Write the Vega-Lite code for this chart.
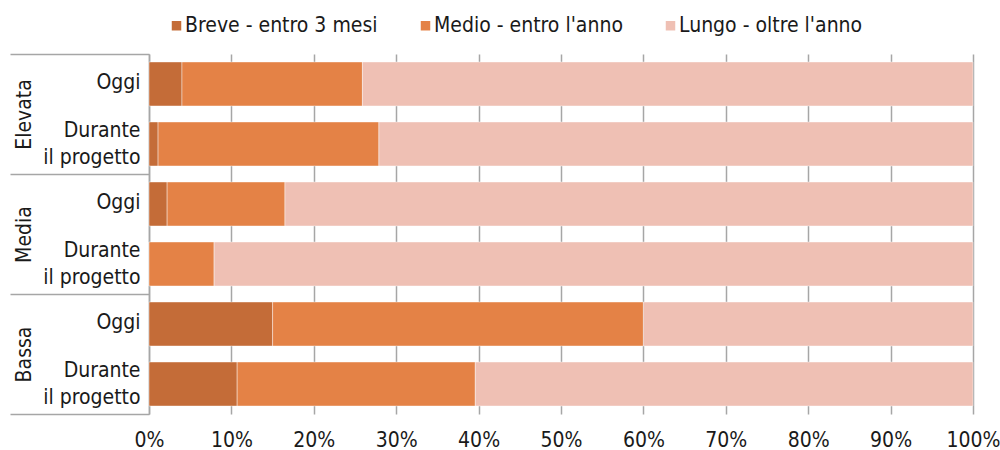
{
  "$schema": "https://vega.github.io/schema/vega-lite/v6.json",
  "width": 824,
  "height": 360,
  "autosize": {"type": "none"},
  "padding": {"left": 149, "top": 54, "right": 27, "bottom": 36},
  "background": "white",
  "config": {
    "font": "DejaVu Sans Condensed, Liberation Sans Narrow, sans-serif",
    "view": {"stroke": null},
    "axis": {"labelFont": "DejaVu Sans Condensed, Liberation Sans Narrow, sans-serif", "labelColor": "#1a1a1a", "labelFontSize": 21, "titleFontSize": 21},
    "legend": {"labelFont": "DejaVu Sans Condensed, Liberation Sans Narrow, sans-serif"}
  },
  "data": {
    "values": [
      {"gruppo": "Elevata", "periodo": "Oggi", "chiave": "Elevata|Oggi", "categoria": "Breve - entro 3 mesi", "ordine": 1, "valore": 4.0},
      {"gruppo": "Elevata", "periodo": "Oggi", "chiave": "Elevata|Oggi", "categoria": "Medio - entro l'anno", "ordine": 2, "valore": 21.9},
      {"gruppo": "Elevata", "periodo": "Oggi", "chiave": "Elevata|Oggi", "categoria": "Lungo - oltre l'anno", "ordine": 3, "valore": 74.1},
      {"gruppo": "Elevata", "periodo": "Durante il progetto", "chiave": "Elevata|Durante", "categoria": "Breve - entro 3 mesi", "ordine": 1, "valore": 1.1},
      {"gruppo": "Elevata", "periodo": "Durante il progetto", "chiave": "Elevata|Durante", "categoria": "Medio - entro l'anno", "ordine": 2, "valore": 26.8},
      {"gruppo": "Elevata", "periodo": "Durante il progetto", "chiave": "Elevata|Durante", "categoria": "Lungo - oltre l'anno", "ordine": 3, "valore": 72.1},
      {"gruppo": "Media", "periodo": "Oggi", "chiave": "Media|Oggi", "categoria": "Breve - entro 3 mesi", "ordine": 1, "valore": 2.2},
      {"gruppo": "Media", "periodo": "Oggi", "chiave": "Media|Oggi", "categoria": "Medio - entro l'anno", "ordine": 2, "valore": 14.3},
      {"gruppo": "Media", "periodo": "Oggi", "chiave": "Media|Oggi", "categoria": "Lungo - oltre l'anno", "ordine": 3, "valore": 83.5},
      {"gruppo": "Media", "periodo": "Durante il progetto", "chiave": "Media|Durante", "categoria": "Breve - entro 3 mesi", "ordine": 1, "valore": 0},
      {"gruppo": "Media", "periodo": "Durante il progetto", "chiave": "Media|Durante", "categoria": "Medio - entro l'anno", "ordine": 2, "valore": 7.9},
      {"gruppo": "Media", "periodo": "Durante il progetto", "chiave": "Media|Durante", "categoria": "Lungo - oltre l'anno", "ordine": 3, "valore": 92.1},
      {"gruppo": "Bassa", "periodo": "Oggi", "chiave": "Bassa|Oggi", "categoria": "Breve - entro 3 mesi", "ordine": 1, "valore": 15.0},
      {"gruppo": "Bassa", "periodo": "Oggi", "chiave": "Bassa|Oggi", "categoria": "Medio - entro l'anno", "ordine": 2, "valore": 45.0},
      {"gruppo": "Bassa", "periodo": "Oggi", "chiave": "Bassa|Oggi", "categoria": "Lungo - oltre l'anno", "ordine": 3, "valore": 40.0},
      {"gruppo": "Bassa", "periodo": "Durante il progetto", "chiave": "Bassa|Durante", "categoria": "Breve - entro 3 mesi", "ordine": 1, "valore": 10.7},
      {"gruppo": "Bassa", "periodo": "Durante il progetto", "chiave": "Bassa|Durante", "categoria": "Medio - entro l'anno", "ordine": 2, "valore": 28.9},
      {"gruppo": "Bassa", "periodo": "Durante il progetto", "chiave": "Bassa|Durante", "categoria": "Lungo - oltre l'anno", "ordine": 3, "valore": 60.4}
    ]
  },
  "layer": [
    {
      "mark": {"type": "bar", "stroke": "#ffffff", "strokeWidth": 0.6, "strokeOpacity": 0.7},
      "encoding": {
        "y": {
          "field": "chiave",
          "type": "nominal",
          "sort": ["Elevata|Oggi", "Elevata|Durante", "Media|Oggi", "Media|Durante", "Bassa|Oggi", "Bassa|Durante"],
          "scale": {"paddingInner": 0.267, "paddingOuter": 0.133},
          "axis": {
            "orient": "left",
            "title": null,
            "ticks": false,
            "domain": true,
            "domainColor": "#a6a6a6",
            "domainWidth": 1.5,
            "labelPadding": 9,
            "labelAlign": "right",
            "labelLineHeight": 27,
            "labelOffset": {"condition": {"test": "indexof(datum.value, 'Durante') >= 0", "value": -13}, "value": -1},
            "labelExpr": "indexof(datum.value, 'Durante') >= 0 ? ['Durante', 'il progetto'] : 'Oggi'"
          }
        },
        "x": {
          "field": "valore",
          "type": "quantitative",
          "stack": "normalize",
          "scale": {"domain": [0, 1], "nice": false},
          "axis": {
            "title": null,
            "format": ".0%",
            "values": [0, 0.1, 0.2, 0.3, 0.4, 0.5, 0.6, 0.7, 0.8, 0.9, 1],
            "domain": false,
            "ticks": false,
            "grid": true,
            "gridColor": "#a6a6a6",
            "gridWidth": 1.5,
            "labelPadding": 15,
            "labelFlush": false
          }
        },
        "color": {
          "field": "categoria",
          "type": "nominal",
          "sort": ["Breve - entro 3 mesi", "Medio - entro l'anno", "Lungo - oltre l'anno"],
          "scale": {
            "domain": ["Breve - entro 3 mesi", "Medio - entro l'anno", "Lungo - oltre l'anno"],
            "range": ["#c46c38", "#e48246", "#efc0b4"]
          },
          "legend": {
            "title": null,
            "orient": "none",
            "direction": "horizontal",
            "legendX": 17,
            "legendY": -39,
            "padding": 0,
            "symbolType": "square",
            "symbolSize": 90,
            "symbolStrokeWidth": 0,
            "labelFontSize": 21,
            "labelColor": "#1a1a1a",
            "labelOffset": -2,
            "columnPadding": 37,
            "labelLimit": 400
          }
        },
        "order": {"field": "ordine", "type": "quantitative"}
      }
    },
    {
      "mark": {"type": "point", "opacity": 0},
      "encoding": {
        "y": {
          "field": "gruppo",
          "type": "nominal",
          "sort": ["Elevata", "Media", "Bassa"],
          "scale": {"paddingInner": 0, "paddingOuter": 0},
          "axis": {
            "orient": "left",
            "title": null,
            "domain": false,
            "ticks": true,
            "tickBand": "extent",
            "tickSize": 139,
            "tickColor": "#a6a6a6",
            "tickWidth": 1.5,
            "labelAngle": -90,
            "labelAlign": "center",
            "labelBaseline": "middle",
            "labelPadding": -14,
            "labelFontSize": 21
          }
        }
      }
    }
  ],
  "resolve": {"scale": {"y": "independent"}, "axis": {"y": "independent"}}
}
